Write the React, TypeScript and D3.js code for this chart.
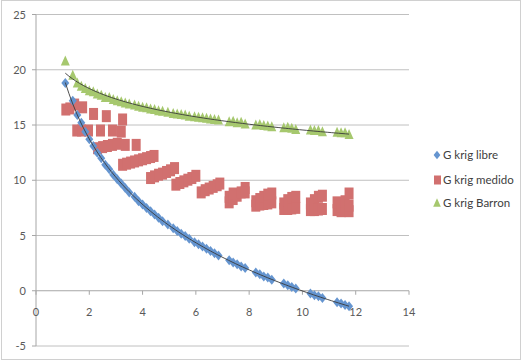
import React from 'react';
import * as d3 from 'd3';

// shared time values for "libre" and "Barron"
const xs = [
  1.1, 1.38, 1.55, 1.7, 1.85, 2.0, 2.15, 2.3, 2.45, 2.6, 2.75, 2.9, 3.05, 3.2, 3.35, 3.5,
  3.7, 3.85, 4.0, 4.15, 4.3, 4.45, 4.6, 4.75, 4.95, 5.15, 5.3, 5.45, 5.6, 5.75, 5.95, 6.1,
  6.25, 6.4, 6.55, 6.7, 6.85, 7.25, 7.4, 7.55, 7.7, 7.85, 8.25, 8.4, 8.55, 8.7, 8.85,
  9.3, 9.45, 9.6, 9.75, 10.3, 10.45, 10.6, 10.75, 11.3, 11.45, 11.6, 11.75,
];
const libre = [
  18.8, 17.2, 15.9, 15.2, 14.4, 13.7, 13.1, 12.5, 12.0, 11.4, 11.0, 10.5, 10.1, 9.7, 9.3, 8.9,
  8.5, 8.1, 7.8, 7.5, 7.2, 6.9, 6.6, 6.3, 6.0, 5.65, 5.4, 5.15, 4.95, 4.7, 4.4, 4.2,
  4.0, 3.8, 3.6, 3.4, 3.2, 2.75, 2.55, 2.4, 2.2, 2.05, 1.65, 1.5, 1.3, 1.2, 1.0,
  0.65, 0.5, 0.35, 0.2, -0.25, -0.4, -0.5, -0.65, -1.05, -1.15, -1.3, -1.4,
];
const barron = [
  20.8, 19.5, 18.8, 18.5, 18.3, 18.1, 18.0, 17.8, 17.7, 17.5, 17.5, 17.3, 17.2, 17.1, 17.0, 16.9,
  16.8, 16.7, 16.6, 16.55, 16.45, 16.4, 16.3, 16.25, 16.15, 16.05, 16.0, 15.95, 15.9, 15.8, 15.75, 15.7,
  15.65, 15.6, 15.55, 15.5, 15.45, 15.3, 15.35, 15.2, 15.25, 15.1, 15.0, 15.05, 14.95, 14.9, 14.85,
  14.75, 14.8, 14.7, 14.6, 14.55, 14.5, 14.5, 14.4, 14.35, 14.3, 14.3, 14.15,
];

// measured series has its own time values
const medidoX = [
  1.12, 1.27, 1.45, 1.75, 2.16, 2.64, 3.25,
  1.53, 1.71, 1.97, 2.42, 2.87, 3.2,
  2.31, 2.5, 2.68, 2.87, 3.05, 3.35, 3.76,
  3.25, 3.4, 3.55, 3.7, 3.85, 4.0, 4.15, 4.3, 4.43,
  4.3, 4.45, 4.6, 4.75, 4.9, 5.05, 5.2,
  5.25, 5.4, 5.55, 5.7, 5.85, 6.0,
  6.2, 6.35, 6.5, 6.65, 6.8, 6.9,
  7.25, 7.25, 7.4, 7.4, 7.55, 7.7, 7.85, 7.85,
  8.25, 8.25, 8.4, 8.4, 8.55, 8.55, 8.7, 8.7, 8.85, 8.85,
  9.3, 9.3, 9.45, 9.45, 9.6, 9.6, 9.75, 9.75,
  10.3, 10.3, 10.45, 10.45, 10.6, 10.6, 10.75, 10.75,
  11.3, 11.3, 11.45, 11.45, 11.6, 11.6, 11.75, 11.75, 11.75,
];
const medidoY = [
  16.4, 16.5, 16.85, 16.6, 16.0, 15.8, 15.5,
  14.5, 14.5, 14.5, 14.5, 14.5, 14.4,
  12.9, 13.0, 13.1, 13.2, 13.3, 13.2, 13.2,
  11.4, 11.5, 11.6, 11.7, 11.8, 11.9, 12.0, 12.1, 12.2,
  10.2, 10.35, 10.5, 10.6, 10.75, 10.9, 11.1,
  9.6, 9.75, 9.9, 10.05, 10.2, 10.4,
  8.9, 9.1, 9.25, 9.4, 9.55, 9.7,
  8.0, 8.5, 8.3, 8.8, 8.6, 8.9, 9.3, 8.9,
  7.7, 8.1, 7.8, 8.3, 7.85, 8.5, 7.9, 8.7, 8.0, 8.8,
  7.4, 7.9, 7.4, 8.2, 7.45, 8.4, 7.5, 8.5,
  7.3, 7.9, 7.3, 8.2, 7.35, 8.5, 7.4, 8.6,
  7.3, 8.0, 7.2, 7.6, 7.3, 8.1, 7.2, 7.7, 8.8,
];

const seriesNames = ['G krig libre', 'G krig medido', 'G krig Barron'];
const xTicks = [0, 2, 4, 6, 8, 10, 12, 14];
const yTicks = [-5, 0, 5, 10, 15, 20, 25];

const BLUE = '#6595d0';
const RED = '#d1706f';
const GREEN = '#a6c86e';
const FONT = 'Lato, "Liberation Sans", sans-serif';

// Excel-style logarithmic trendline (least squares on ln x)
function logFit(x: number[], y: number[]) {
  const lx = x.map(Math.log);
  const mx = d3.mean(lx)!;
  const my = d3.mean(y)!;
  const b = d3.sum(lx, (v, i) => (v - mx) * (y[i] - my)) / d3.sum(lx, v => (v - mx) ** 2);
  const a = my - b * mx;
  return (v: number) => a + b * Math.log(v);
}

export default function App() {
  const W = 523, H = 362;
  const x = d3.scaleLinear().domain([0, 14]).range([36, 409]);
  const y = d3.scaleLinear().domain([-5, 25]).range([346, 14.5]);

  const trendPath = (xv: number[], yv: number[]) => {
    const f = logFit(xv, yv);
    const [x0, x1] = d3.extent(xv) as [number, number];
    const pts = d3.range(0, 81).map(i => x0 + (x1 - x0) * i / 80);
    return d3.line<number>().x(v => x(v)).y(v => y(f(v)))(pts) || '';
  };

  const diamond = (cx: number, cy: number, s = 1) =>
    `M${cx},${cy - 5 * s}L${cx + 4 * s},${cy}L${cx},${cy + 5 * s}L${cx - 4 * s},${cy}Z`;
  const triangle = (cx: number, cy: number, s = 1) =>
    `M${cx},${cy - 5.5 * s}L${cx + 4.5 * s},${cy + 4.5 * s}L${cx - 4.5 * s},${cy + 4.5 * s}Z`;

  return (
    <svg width={W} height={H} style={{ position: 'fixed', left: 0, top: 0, background: '#fff' }}
      fontFamily={FONT}>
      <rect x={1.5} y={0.5} width={519} height={359} fill="#fff" stroke="#d0d0d0" />

      {/* gridlines */}
      {yTicks.map(t => (
        <line key={'g' + t} x1={x(0)} x2={x(14)} y1={y(t)} y2={y(t)}
          stroke={t === 0 ? '#a6a6a6' : '#c0c0c0'} strokeWidth={1} />
      ))}
      {/* y axis */}
      <line x1={x(0)} x2={x(0)} y1={y(25)} y2={y(-5)} stroke="#a6a6a6" />
      {yTicks.map(t => (
        <g key={'y' + t}>
          <line x1={x(0) - 4} x2={x(0)} y1={y(t)} y2={y(t)} stroke="#a6a6a6" />
          <text x={26} y={y(t) + 4} textAnchor="end" fontSize={11} fill="#595959">{t}</text>
        </g>
      ))}
      {xTicks.map(t => (
        <g key={'x' + t}>
          <line x1={x(t)} x2={x(t)} y1={y(0)} y2={y(0) + 4} stroke="#a6a6a6" />
          <text x={x(t)} y={y(0) + 25} textAnchor="middle" fontSize={11} fill="#595959">{t}</text>
        </g>
      ))}

      {/* G krig medido */}
      {medidoX.map((v, i) => (
        <rect key={'m' + i} x={x(v) - 4.5} y={y(medidoY[i]) - 6} width={9} height={12} fill={RED} />
      ))}
      {/* G krig libre */}
      {xs.map((v, i) => (
        <path key={'l' + i} d={diamond(x(v), y(libre[i]))} fill={BLUE} />
      ))}
      {/* G krig Barron */}
      {xs.map((v, i) => (
        <path key={'b' + i} d={triangle(x(v), y(barron[i]))} fill={GREEN} />
      ))}

      {/* trendlines */}
      <path d={trendPath(xs, libre)} fill="none" stroke="#3a3a3a" strokeWidth={0.9} />
      <path d={trendPath(xs, barron)} fill="none" stroke="#3a3a3a" strokeWidth={0.9} />

      {/* legend */}
      <g fontSize={11.5} fill="#404040">
        <path d={diamond(437, 155, 0.85)} fill={BLUE} />
        <text x={443} y={159}>{seriesNames[0]}</text>
        <rect x={434} y={175.5} width={7} height={9} fill={RED} />
        <text x={443} y={184}>{seriesNames[1]}</text>
        <path d={triangle(437, 203, 0.85)} fill={GREEN} />
        <text x={443} y={207}>{seriesNames[2]}</text>
      </g>
    </svg>
  );
}
